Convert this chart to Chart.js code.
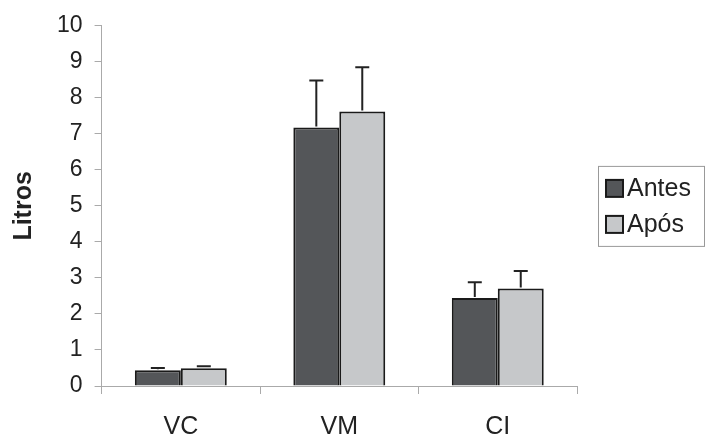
<!DOCTYPE html>
<html lang="pt-br">
<head>
    <meta charset="UTF-8" />
    <title>Litros</title>
    <script src="https://cdn.jsdelivr.net/npm/chart.js"></script>
    <style>
        html, body { margin: 0; padding: 0; background: #fff; overflow: hidden; }
        /* canvas mais alto que a janela: os rótulos de baixo ficam cortados como no original */
        #myChart { display: block; }
    </style>
</head>
<body>
    <canvas id="myChart" width="705" height="465"></canvas>

<script>
    // dados
    const categorias = ['VC', 'VM', 'CI'];
    const antes = [0.44, 7.18, 2.44];
    const apos = [0.49, 7.62, 2.71];
    // desvio (só a parte de cima aparece)
    const erroAntes = [0.06, 1.30, 0.44];
    const erroApos = [0.06, 1.23, 0.48];
    const ticksY = [0, 1, 2, 3, 4, 5, 6, 7, 8, 9, 10];

    const fonte = "'Liberation Sans', Arial, sans-serif";

    // barras de erro por cima de cada barra
    const barrasErro = {
        id: 'barrasErro',
        afterDatasetsDraw(chart) {
            const ctx = chart.ctx;
            const y = chart.scales.y;
            const erros = [erroAntes, erroApos];
            ctx.save();
            ctx.strokeStyle = '#222';
            ctx.lineWidth = 2;
            chart.data.datasets.forEach((ds, i) => {
                const meta = chart.getDatasetMeta(i);
                meta.data.forEach((bar, j) => {
                    const topo = y.getPixelForValue(ds.data[j] + erros[i][j]);
                    ctx.beginPath();
                    ctx.moveTo(bar.x, bar.y - 1);
                    ctx.lineTo(bar.x, topo);
                    ctx.moveTo(bar.x - 7, topo);
                    ctx.lineTo(bar.x + 7, topo);
                    ctx.stroke();
                });
            });
            ctx.restore();
        }
    };

    // legenda com moldura, à direita do gráfico
    const legendaCaixa = {
        id: 'legendaCaixa',
        afterDraw(chart) {
            const ctx = chart.ctx;
            const area = chart.chartArea;
            const x0 = area.right + 21;
            const y0 = (area.top + area.bottom) / 2 - 40;
            ctx.save();
            ctx.strokeStyle = '#999';
            ctx.lineWidth = 1;
            ctx.strokeRect(x0 + 0.5, y0 + 0.5, 106, 80);
            ctx.font = '25px ' + fonte;
            ctx.textBaseline = 'middle';
            chart.data.datasets.forEach((ds, i) => {
                const cy = y0 + 22 + i * 36;
                ctx.fillStyle = ds.backgroundColor;
                ctx.fillRect(x0 + 8, cy - 8, 17, 17);
                ctx.strokeStyle = '#1a1a1a';
                ctx.lineWidth = 2;
                ctx.strokeRect(x0 + 8, cy - 8, 17, 17);
                ctx.fillStyle = '#222';
                ctx.fillText(ds.label, x0 + 29, cy + 1);
            });
            ctx.restore();
        }
    };

    const dados = {
        labels: categorias,
        datasets: [{
            label: 'Antes',
            data: antes,
            backgroundColor: '#545659',
            borderColor: '#1a1a1a',
            borderWidth: 2
        },
        {
            label: 'Após',
            data: apos,
            backgroundColor: '#c6c8ca',
            borderColor: '#1a1a1a',
            borderWidth: 2
        }]
    };

    const config = {
        type: 'bar',
        data: dados,
        options: {
            responsive: false,
            animation: false,
            layout: { padding: { top: 8, right: 128, bottom: 5, left: 6 } },
            categoryPercentage: 0.58,
            barPercentage: 1.0,
            plugins: {
                tooltip: { enabled: false },
                legend: { display: false }
            },
            scales: {
                x: {
                    grid: {
                        display: true,
                        drawOnChartArea: false,
                        offset: true,
                        color: '#aaa',
                        tickLength: 8
                    },
                    border: { color: '#aaa', width: 1 },
                    ticks: {
                        color: '#222',
                        font: { family: fonte, size: 25 },
                        padding: 18
                    }
                },
                y: {
                    min: 0,
                    max: 10,
                    afterBuildTicks(axis) {
                        axis.ticks = ticksY.map(v => ({ value: v }));
                    },
                    grid: {
                        display: true,
                        drawOnChartArea: false,
                        color: '#aaa',
                        tickLength: 7
                    },
                    border: { color: '#aaa', width: 1 },
                    ticks: {
                        color: '#222',
                        font: { family: fonte, size: 23 },
                        padding: 12
                    },
                    title: {
                        display: true,
                        text: 'Litros',
                        color: '#222',
                        font: { family: fonte, size: 25, weight: 'bold' },
                        padding: { top: 3, bottom: 6 }
                    }
                }
            }
        },
        plugins: [barrasErro, legendaCaixa]
    };

    let myChart = new Chart(document.getElementById('myChart'), config);
</script>
</body>
</html>
